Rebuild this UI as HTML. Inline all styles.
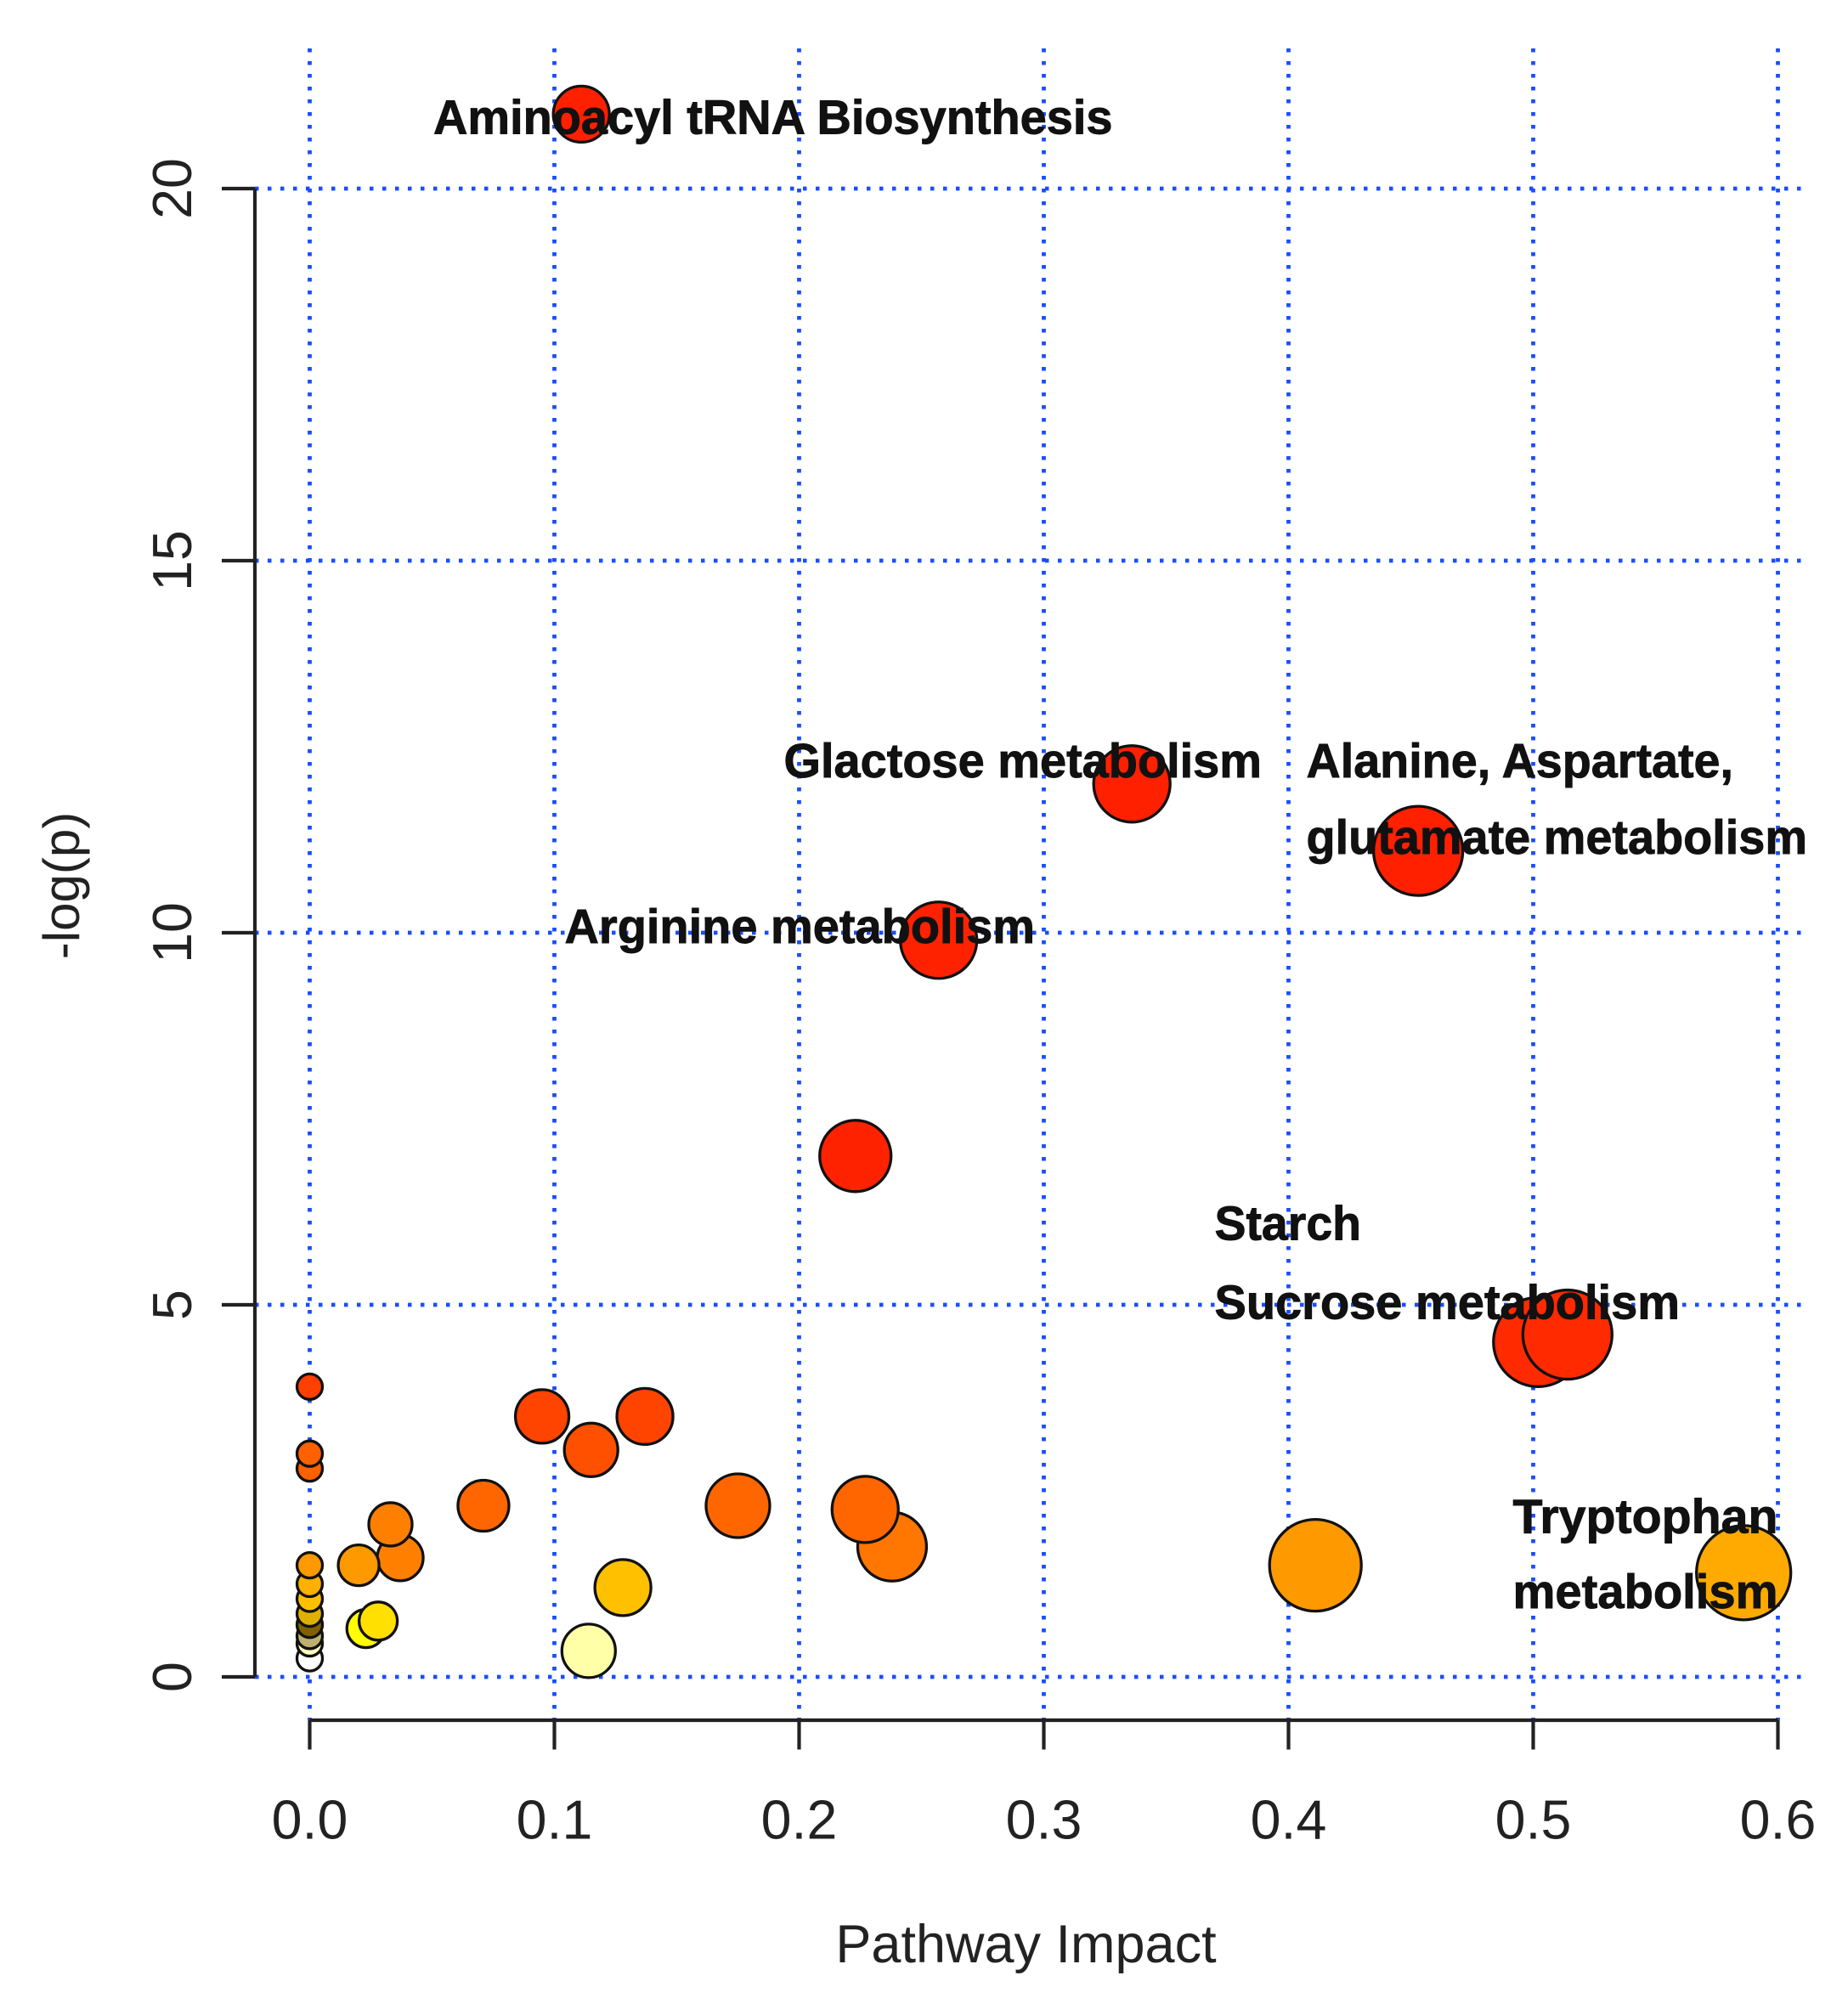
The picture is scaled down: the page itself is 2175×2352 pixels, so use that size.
<!DOCTYPE html>
<html><head><meta charset="utf-8"><style>
html,body{margin:0;padding:0;background:#fff;}
svg{display:block;}
</style></head><body>
<svg id="chart" width="2175" height="2352" viewBox="0 0 1450 1568" xmlns="http://www.w3.org/2000/svg" font-family="Liberation Sans, sans-serif">
<g id="grid"></g>
<g id="axes"></g>
<g id="points"></g>
<g id="labels"></g>
</svg>
<script>
const xTicks = [0, 0.1, 0.2, 0.3, 0.4, 0.5, 0.6];
const xTickLabels = ["0.0","0.1","0.2","0.3","0.4","0.5","0.6"];
const yTicks = [0, 5, 10, 15, 20];
const yTickLabels = ["0","5","10","15","20"];
const impact = [0.111,0.336,0.453,0.257,0.223,0.514,0.502,0.586,0.411,
  0,0,0,0,0,0,0,0,0,0,0,
  0.02,0.033,0.037,0.028,0.023,0.071,0.095,0.115,0.137,0.175,0.227,0.238,0.128,0.114];
const logp = [21.0,12.0,11.1,9.9,7.0,4.6,4.5,1.4,1.5,
  3.9,3.0,2.8,1.5,1.25,1.05,0.85,0.7,0.55,0.45,0.25,
  1.5,2.05,1.6,0.75,0.65,2.3,3.5,3.05,3.5,2.3,2.25,1.75,1.2,0.35];
const pointSize = [22,30,35,30,28,35,35,37,36,
  10,10,10,10,10,10,10,10,10,10,10,
  16,17,18,15,15,20,21,21,22,25,26,27,22,21];
const pointColor = ["#ff2000","#ff2000","#ff2000","#ff2200","#ff2200","#ff2a00","#ff2a00","#ffaa00","#ff9900",
  "#ff4000","#ff6000","#ff6000","#ff9900","#ffb000","#ffc000","#e0b000","#806000","#c0b070","#ffffc0","#ffffff",
  "#ff9900","#ff8000","#ff8000","#ffe000","#ffff00","#ff6600","#ff4400","#ff5000","#ff4400","#ff6600","#ff6600","#ff7700","#ffc000","#ffffa8"];
const labelText = ["Aminoacyl tRNA Biosynthesis","Glactose metabolism","Alanine, Aspartate,","glutamate metabolism","Arginine metabolism","Starch","Sucrose metabolism","Tryptophan","metabolism"];

const NS = "http://www.w3.org/2000/svg";
const X0 = 243, XS = 1920;
const Y0 = 1316, YS = 58.4;
function xs(v){return X0 + v*XS;}
function ys(v){return Y0 - v*YS;}
function mk(tag, attrs, parent){const e=document.createElementNS(NS,tag);for(const k in attrs)e.setAttribute(k,attrs[k]);parent.appendChild(e);return e;}

const grid=document.getElementById('grid'), axes=document.getElementById('axes'), pts=document.getElementById('points'), lbl=document.getElementById('labels');
const gridStyle={stroke:"#1a4dff","stroke-width":3.2,"stroke-dasharray":"3 7"};
xTicks.forEach(t=>{
  const l=mk('line',Object.assign({x1:xs(t),x2:xs(t),y1:38,y2:1350},gridStyle),grid);
  
  
});
yTicks.forEach(t=>{
  const l=mk('line',Object.assign({x1:200,x2:1418,y1:ys(t),y2:ys(t)},gridStyle),grid);
  
  
});
let a=mk('line',{x1:200,x2:200,y1:ys(20),y2:ys(0),stroke:"#222","stroke-width":2.8},axes);


a=mk('line',{x1:xs(0),x2:xs(0.6),y1:1350,y2:1350,stroke:"#222","stroke-width":2.8},axes);


xTicks.forEach((t,i)=>{
  const tk=mk('line',{x1:xs(t),x2:xs(t),y1:1350,y2:1373,stroke:"#222","stroke-width":2.8},axes);
  
  
  const tx=mk('text',{x:xs(t),y:1443,"text-anchor":"middle","font-size":43,fill:"#222"},axes);
  tx.textContent=xTickLabels[i];
  
  
});
yTicks.forEach((t,i)=>{
  const tk=mk('line',{x1:174,x2:200,y1:ys(t),y2:ys(t),stroke:"#222","stroke-width":2.8},axes);
  
  
  const tx=mk('text',{x:0,y:0,"text-anchor":"middle","font-size":43,fill:"#222",transform:`translate(150,${ys(t)}) rotate(-90)`},axes);
  tx.textContent=yTickLabels[i];
  
  
});
let tt=mk('text',{x:0,y:0,"text-anchor":"middle","font-size":40,fill:"#222",transform:"translate(62,695) rotate(-90)"},axes);
tt.textContent="-log(p)";


tt=mk('text',{x:805,y:1540,"text-anchor":"middle","font-size":42,fill:"#222"},axes);
tt.textContent="Pathway Impact";



impact.map((_,i)=>i).reverse().forEach(i=>{
  const c=mk('circle',{cx:xs(impact[i]),cy:ys(logp[i]),r:pointSize[i],fill:pointColor[i],stroke:"#111","stroke-width":2.2},pts);
  
  
});

const labelPos=[[340,105,533],[615,610,375],[1025,610,335],[1025,670,393],[443,740,369],[953,973,115],[953,1035,365],[1187,1203,208],[1187,1262,208]];
labelText.forEach((s,i)=>{
  const p=labelPos[i];
  const t=mk('text',{x:p[0],y:p[1],"font-size":38,"font-weight":"bold",fill:"#111",stroke:"#111","stroke-width":0.6,textLength:p[2],lengthAdjust:"spacingAndGlyphs"},lbl);
  t.textContent=s;
  
  
});
</script>
</body></html>
